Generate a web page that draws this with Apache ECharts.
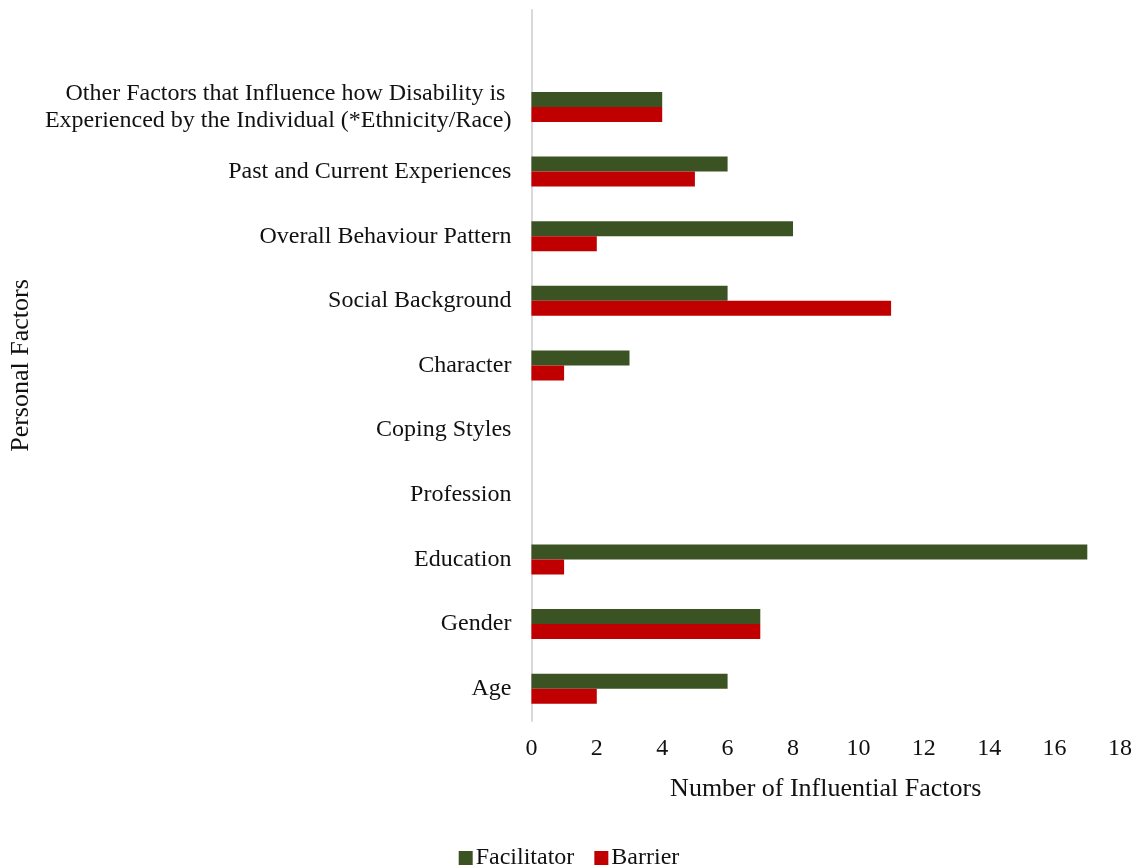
<!DOCTYPE html>
<html>
<head>
<meta charset="utf-8">
<script src="https://cdn.jsdelivr.net/npm/echarts@6/dist/echarts.min.js"></script>
<style>
  html, body { margin: 0; padding: 0; background: #fff; }
  #chart { width: 1138px; height: 867px; }
</style>
</head>
<body>
<div id="chart"></div>
<script>
// categories bottom to top; the empty one at the top leaves the gap above the first bar pair
const categories = [
  'Age',
  'Gender',
  'Education',
  'Profession',
  'Coping Styles',
  'Character',
  'Social Background',
  'Overall Behaviour Pattern',
  'Past and Current Experiences',
  'Other Factors that Influence how Disability is \nExperienced by the Individual (*Ethnicity/Race)',
  ''
];
const facilitator = [6, 7, 17, 0, 0, 3, 6, 8, 6, 4, null];
const barrier = [2, 7, 1, 0, 0, 1, 11, 2, 5, 4, null];
const xTicks = { min: 0, max: 18, interval: 2 };

const font = '"Liberation Serif", "Times New Roman", serif';
const chart = echarts.init(document.getElementById('chart'));

chart.setOption({
  animation: false,
  textStyle: { fontFamily: font },
  grid: { left: 531, right: 18, top: 10, bottom: 146, containLabel: false },
  legend: {
    data: ['Facilitator', 'Barrier'],
    top: 841,
    left: 'center',
    itemWidth: 14,
    itemHeight: 14,
    itemGap: 20,
    icon: 'rect',
    textStyle: { fontFamily: font, fontSize: 24, color: '#111', padding: [0, 0, 0, -2] }
  },
  xAxis: {
    type: 'value',
    min: xTicks.min,
    max: xTicks.max,
    interval: xTicks.interval,
    name: 'Number of Influential Factors',
    nameLocation: 'middle',
    nameGap: 55,
    nameTextStyle: { fontFamily: font, fontSize: 26, color: '#111' },
    axisLine: { show: false },
    axisTick: { show: false },
    splitLine: { show: false },
    axisLabel: { fontFamily: font, fontSize: 24, color: '#111', margin: 16 }
  },
  yAxis: {
    type: 'category',
    data: categories,
    name: 'Personal Factors',
    nameLocation: 'middle',
    nameGap: 497,
    nameRotate: 90,
    nameTextStyle: { fontFamily: font, fontSize: 26, color: '#111' },
    axisLine: { show: true, lineStyle: { color: '#d9d9d9', width: 2 } },
    axisTick: { show: false },
    axisLabel: { fontFamily: font, fontSize: 24, color: '#111', margin: 20, lineHeight: 27, align: 'right' }
  },
  series: [
    {
      name: 'Facilitator',
      type: 'bar',
      data: facilitator,
      barWidth: 15,
      barGap: '0%',
      itemStyle: { color: '#3b5323' }
    },
    {
      name: 'Barrier',
      type: 'bar',
      data: barrier,
      barWidth: 15,
      barGap: '0%',
      itemStyle: { color: '#c00000' }
    }
  ]
});
</script>
</body>
</html>
